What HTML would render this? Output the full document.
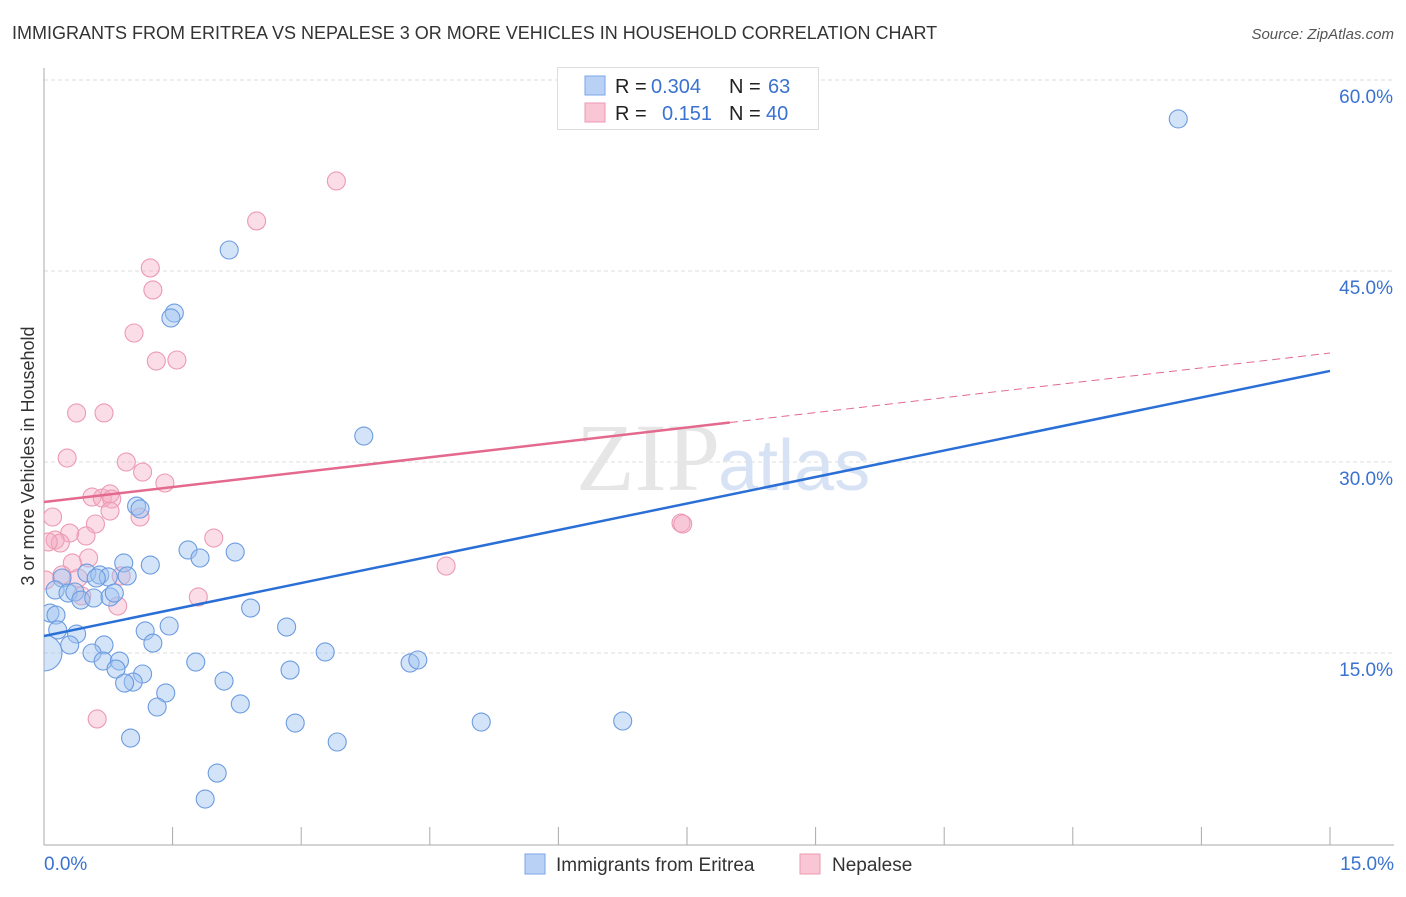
<!DOCTYPE html>
<html><head><meta charset="utf-8"><style>
body{margin:0;background:#fff;font-family:"Liberation Sans",sans-serif;}
svg text{font-family:"Liberation Sans",sans-serif;}
</style></head><body>
<svg id="chart" width="1406" height="892">
<defs><clipPath id="plotclip"><rect x="44" y="60" width="1360" height="785"/></clipPath></defs>
<text x="12" y="39" font-size="18" fill="#333">IMMIGRANTS FROM ERITREA VS NEPALESE 3 OR MORE VEHICLES IN HOUSEHOLD CORRELATION CHART</text>
<text x="1394" y="39" font-size="15" fill="#555" font-style="italic" text-anchor="end">Source: ZipAtlas.com</text>
<text x="0" y="0" transform="translate(34,456) rotate(-90)" font-size="18" fill="#333" text-anchor="middle">3 or more Vehicles in Household</text>
<g id="grid"></g>
<text x="720" y="490" font-size="96" fill="#e6e6e6" text-anchor="end" style="font-family:'Liberation Serif',serif">ZIP</text>
<text x="718" y="490" font-size="72" fill="#d7e3f5">atlas</text>
<g id="marks" clip-path="url(#plotclip)"></g>
<g>
<rect x="557.5" y="67.5" width="261" height="62" fill="#fff" stroke="#ddd"/>
<rect x="585" y="76" width="20" height="19" fill="#b9d1f4" stroke="#7aa6e8"/>
<rect x="585" y="103" width="20" height="19" fill="#f9c6d5" stroke="#ee98b2"/>
<text x="615" y="93" font-size="20" fill="#222">R = </text><text x="651" y="93" font-size="20" fill="#3a72d0">0.304</text>
<text x="729" y="93" font-size="20" fill="#222">N = </text><text x="768" y="93" font-size="20" fill="#3a72d0">63</text>
<text x="615" y="120" font-size="20" fill="#222">R = </text><text x="662" y="120" font-size="20" fill="#3a72d0">0.151</text>
<text x="729" y="120" font-size="20" fill="#222">N = </text><text x="766" y="120" font-size="20" fill="#3a72d0">40</text>
</g>
<g>
<rect x="525" y="854" width="20" height="20" fill="#b9d1f4" stroke="#7aa6e8"/>
<text x="556" y="871" font-size="19" fill="#333">Immigrants from Eritrea</text>
<rect x="800" y="854" width="20" height="20" fill="#f9c6d5" stroke="#ee98b2"/>
<text x="832" y="871" font-size="19" fill="#333">Nepalese</text>
</g>
</svg>
<script>
const yTicks=[15,30,45,60];
const yTickLabels=["15.0%","30.0%","45.0%","60.0%"];
const xTickLabels=["0.0%","15.0%"];
const blueX=[13.23,2.16,1.52,1.48,3.73,1.08,1.12,1.68,1.82,2.23,0.93,1.24,0.50,0.65,0.97,0.75,0.61,0.21,0.13,0.28,0.36,0.43,0.58,0.77,0.82,0.07,0.14,2.41,0.16,0.38,1.18,1.46,2.83,1.27,0.70,0.30,0.56,3.28,0.69,0.88,1.77,4.27,4.36,0.84,1.15,2.87,1.04,0.94,2.10,1.42,1.32,2.29,2.93,5.10,6.75,1.01,3.42,2.02,1.88,0.0];
const blueY=[56.94,46.65,41.70,41.31,32.04,26.54,26.31,23.09,22.46,22.93,22.07,21.91,21.28,21.13,21.05,20.97,20.89,20.89,19.95,19.71,19.79,19.16,19.32,19.40,19.71,18.14,17.98,18.53,16.81,16.49,16.73,17.12,17.04,15.78,15.63,15.63,15.00,15.08,14.37,14.37,14.29,14.21,14.45,13.74,13.35,13.66,12.72,12.64,12.80,11.86,10.76,11.00,9.50,9.58,9.66,8.32,8.01,5.57,3.53,15.0];
const pinkX=[3.41,2.48,1.24,1.27,1.05,1.31,1.55,0.38,0.70,0.27,0.96,1.15,1.41,0.56,0.68,0.77,0.79,0.77,1.12,0.10,0.60,0.30,0.49,1.98,0.13,0.19,0.05,7.43,7.45,0.52,0.33,4.69,0.21,0.40,0.02,0.90,1.80,0.44,0.86,0.62];
const pinkY=[52.07,48.93,45.24,43.51,40.13,37.93,38.01,33.85,33.85,30.31,30.00,29.21,28.35,27.25,27.17,27.49,27.09,26.15,25.68,25.68,25.13,24.42,24.19,24.03,23.87,23.64,23.72,25.21,25.13,22.46,22.07,21.83,21.13,20.89,20.73,21.05,19.40,19.48,18.69,9.82];
const blueTrend=[16.33,37.15];
const pinkTrend=[26.86,38.56];
const pinkSolidEnd=8.0;
const X0=44,X1=1330,Y0=844,Y60=80;
const sx=v=>X0+(X1-X0)*v/15;
const sy=v=>Y0-(Y0-Y60)*v/60;
const NS="http://www.w3.org/2000/svg";
function mk(tag,attrs,parent){const e=document.createElementNS(NS,tag);for(const k in attrs)e.setAttribute(k,attrs[k]);parent.appendChild(e);return e;}
const grid=document.getElementById('grid'),marks=document.getElementById('marks');
yTicks.forEach((t,i)=>{
 const g=mk('line',{x1:X0,x2:1394,y1:sy(t),y2:sy(t),stroke:'#ddd','stroke-dasharray':'4,3'},grid);
 
 
 const tx=mk('text',{x:1393,y:sy(t)+23,'font-size':19,fill:'#3a72d0','text-anchor':'end'},grid);
 tx.textContent=yTickLabels[i];
 
 
});
const ax=mk('line',{x1:X0,x2:X0,y1:68,y2:845,stroke:'#aaa'},grid);


const bx=mk('line',{x1:X0,x2:1394,y1:845,y2:845,stroke:'#aaa'},grid);


for(let i=0;i<=10;i++){const x=sx(i*1.5);const t=mk('line',{x1:x,x2:x,y1:827,y2:845,stroke:'#aaa'},grid);
 
 }
[[0,'start',44],[1,'end',1394]].forEach(([i,a,x])=>{const t=mk('text',{x:x,y:870,'font-size':19,fill:'#3a72d0','text-anchor':a},grid);t.textContent=xTickLabels[i];
 
 });
pinkX.forEach((x,i)=>{const c=mk('circle',{cx:sx(x),cy:sy(pinkY[i]),r:9,fill:'rgba(246,170,194,0.4)',stroke:'#ec9ab3','stroke-width':1.1},marks);
 
 });
blueX.forEach((x,i)=>{const c=mk('circle',{cx:sx(x),cy:sy(blueY[i]),r:i==blueX.length-1?18:9,fill:'rgba(160,195,240,0.45)',stroke:'#6c9be0','stroke-width':1.1},marks);
 
 });
const lerp=(a,t)=>a[0]+(a[1]-a[0])*t/15;
const bl=mk('line',{x1:sx(0),y1:sy(blueTrend[0]),x2:sx(15),y2:sy(blueTrend[1]),stroke:'#2a6fd6','stroke-width':2.5},marks);


const pl=mk('line',{x1:sx(0),y1:sy(pinkTrend[0]),x2:sx(pinkSolidEnd),y2:sy(lerp(pinkTrend,pinkSolidEnd)),stroke:'#e4698f','stroke-width':2.5},marks);


const pd=mk('line',{x1:sx(pinkSolidEnd),y1:sy(lerp(pinkTrend,pinkSolidEnd)),x2:sx(15),y2:sy(pinkTrend[1]),stroke:'#e4698f','stroke-width':1,'stroke-dasharray':'8,5'},marks);


</script>
</body></html>
